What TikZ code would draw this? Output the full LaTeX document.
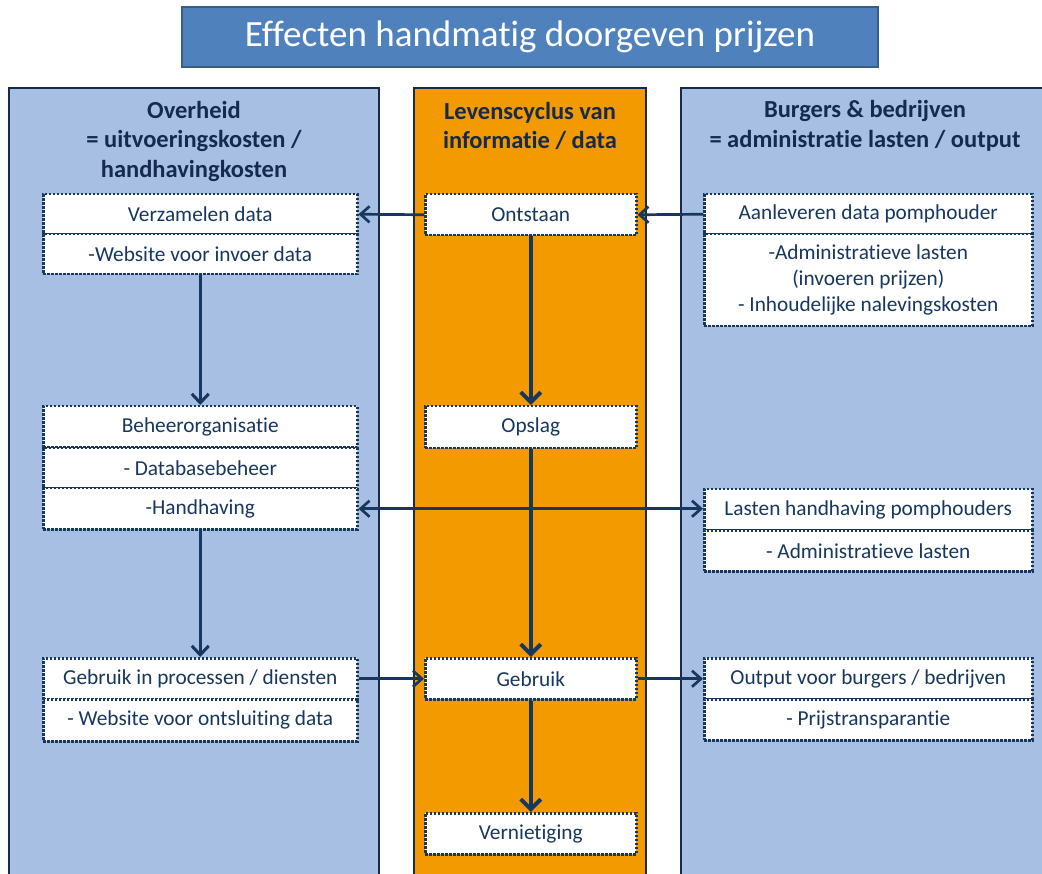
\documentclass[tikz,border=0pt]{standalone}
\usepackage{fontspec}
\setmainfont[Ligatures=NoCommon]{Carlito}
\usetikzlibrary{arrows.meta}
\definecolor{colblue}{RGB}{167,191,227}
\definecolor{colorange}{RGB}{243,154,0}
\definecolor{titlefill}{RGB}{79,129,189}
\definecolor{titledraw}{RGB}{56,93,138}
\definecolor{navy}{RGB}{23,55,94}
\definecolor{headnavy}{RGB}{22,42,80}
\begin{document}
\begin{tikzpicture}[x=1pt,y=-1pt,
  column/.style={draw=headnavy,line width=1.3pt},
  box/.style={draw=navy,fill=white,line width=2.5pt,dash pattern=on 2.4pt off 1.6pt,
    anchor=north west,inner sep=0pt,align=center,text=navy,
    font=\fontsize{21.3}{26}\selectfont},
  head/.style={align=center,text=headnavy,font=\fontsize{24.5}{29.5}\selectfont\bfseries},
  arr/.style={draw=navy,line width=2.7pt,-{Straight Barb[length=9pt,width=16pt,line width=2.7pt]}},
  darr/.style={draw=navy,line width=2.7pt,{Straight Barb[length=9pt,width=16pt,line width=2.7pt]}-{Straight Barb[length=9pt,width=16pt,line width=2.7pt]}},
  varr/.style={draw=navy,line width=3pt,-{Straight Barb[length=9pt,width=17pt,line width=3pt]}},
  marr/.style={draw=navy,line width=4.2pt,-{Straight Barb[length=10pt,width=20pt,line width=4pt]}}
]
\useasboundingbox (0,0) rectangle (1042,874);
\clip (0,0) rectangle (1042,874);
\fill[white] (0,0) rectangle (1042,874);

% title
\node[draw=titledraw,fill=titlefill,line width=2.2pt,minimum width=696,minimum height=60,
  text=white,font=\fontsize{37}{42}\selectfont] (title) at (530,37) {Effecten handmatig doorgeven prijzen};

% columns
\fill[colblue] (9,88) rectangle (379,890);
\draw[column] (9,890) -- (9,88) -- (379,88) -- (379,890);
\fill[colorange] (414,88) rectangle (646,890);
\draw[column] (414,890) -- (414,88) -- (646,88) -- (646,890);
\fill[colblue] (681,88) rectangle (1060,890);
\draw[column] (681,890) -- (681,88) -- (1060,88);

% headers
\node[head] (hleft) at (194,141) {Overheid\\= uitvoeringskosten /\\handhavingkosten};
\node[head] (hmid) at (530,126) {Levenscyclus van\\informatie / data};
\node[head] (hright) at (865,126) {Burgers \& bedrijven\\= administratie lasten / output};

% left boxes
\node[box,minimum width=314,minimum height=40] (verz) at (42,193) {Verzamelen data};
\node[box,minimum width=314,minimum height=40] (verzb) at (42,233) {-Website voor invoer data};
\node[box,minimum width=314,minimum height=41] (beheer) at (42,405) {Beheerorganisatie};
\node[box,minimum width=314,minimum height=40] (dbb) at (42,447) {- Databasebeheer};
\node[box,minimum width=314,minimum height=41] (handh) at (42,487) {-Handhaving};
\node[box,minimum width=314,minimum height=41] (gipd) at (42,657) {Gebruik in processen / diensten};
\node[box,minimum width=314,minimum height=42] (website) at (42,698) {- Website voor ontsluiting data};

% middle boxes
\node[box,minimum width=211,minimum height=41] (ontstaan) at (424,193) {Ontstaan};
\node[box,minimum width=211,minimum height=42] (opslag) at (424,405) {Opslag};
\node[box,minimum width=211,minimum height=41] (gebruik) at (424,657) {Gebruik};
\node[box,minimum width=211,minimum height=41] (vern) at (424,812) {Vernietiging};

% right boxes
\node[box,minimum width=328,minimum height=40] (aanl) at (703,193) {Aanleveren data pomphouder};
\node[box,minimum width=328,minimum height=92] (aanlb) at (703,233) {-Administratieve lasten\\(invoeren prijzen)\\- Inhoudelijke nalevingskosten};
\node[box,minimum width=328,minimum height=41] (lasten) at (703,488) {Lasten handhaving pomphouders};
\node[box,minimum width=328,minimum height=41] (lastenb) at (703,529) {- Administratieve lasten};
\node[box,minimum width=328,minimum height=41] (output) at (703,657) {Output voor burgers / bedrijven};
\node[box,minimum width=328,minimum height=41] (outputb) at (703,698) {- Prijstransparantie};

% connectors
\draw[arr] (ontstaan.west) -- (verz.east);
\draw[arr] (aanl.west) -- (ontstaan.east);
\draw[varr] (verzb.south) -- (beheer.north);
\draw[marr] (ontstaan.south) -- (opslag.north);
\draw[marr] (opslag.south) -- (gebruik.north);
\draw[marr] (gebruik.south) -- (vern.north);
\draw[darr] (handh.east) -- (handh.east -| lasten.west);
\draw[varr] (handh.south) -- (gipd.north);
\draw[arr] (gipd.east) -- (gebruik.west);
\draw[arr] (gebruik.east) -- (output.west);
\end{tikzpicture}
\end{document}
